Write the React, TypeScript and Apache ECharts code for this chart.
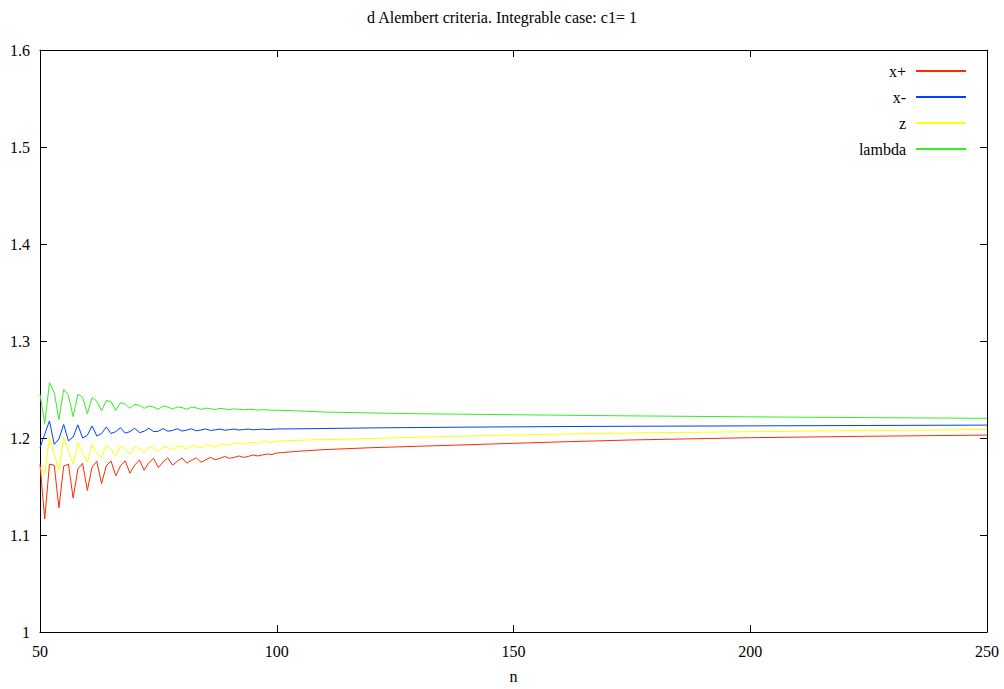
import React, { useEffect, useRef } from "react";
import * as echarts from "echarts";

const TITLE = "d Alembert criteria. Integrable case: c1= 1";
const X_TICKS = [50, 100, 150, 200, 250];
const Y_TICKS = [1, 1.1, 1.2, 1.3, 1.4, 1.5, 1.6];

const nDense = [
  50, 51, 52, 53, 54, 55, 56, 57, 58, 59, 60, 61, 62, 63, 64, 65, 66, 67, 68, 69, 70,
  71, 72, 73, 74, 75, 76, 77, 78, 79, 80, 81, 82, 83, 84, 85, 86, 87, 88, 89, 90,
  91, 92, 93, 94, 95, 96, 97, 98, 99, 100,
];
const nSparse = [105, 110, 120, 130, 140, 150, 160, 175, 200, 225, 250];

const xPlus = [
  1.173, 1.1165, 1.173, 1.172, 1.128, 1.171, 1.173, 1.138, 1.168, 1.174, 1.146,
  1.17, 1.176, 1.153, 1.1713, 1.1764, 1.161, 1.1713, 1.1764, 1.1637, 1.172,
  1.1774, 1.1668, 1.1747, 1.179, 1.1695, 1.1754, 1.1795, 1.172, 1.176, 1.1795,
  1.174, 1.177, 1.1795, 1.175, 1.1775, 1.18, 1.1775, 1.179, 1.181, 1.179,
  1.18, 1.1815, 1.18, 1.181, 1.1825, 1.1815, 1.1825, 1.1835, 1.183, 1.1845,
  1.1865, 1.188, 1.19, 1.1915, 1.193, 1.1945, 1.196, 1.198, 1.2003, 1.2018, 1.203,
];
const xMinus = [
  1.19, 1.204, 1.2176, 1.1935, 1.199, 1.214, 1.197, 1.201, 1.2135, 1.2, 1.2028,
  1.2124, 1.202, 1.2046, 1.2114, 1.2046, 1.2066, 1.2107, 1.205, 1.2066, 1.21,
  1.2055, 1.207, 1.21, 1.2066, 1.207, 1.2097, 1.207, 1.2078, 1.2095, 1.2072,
  1.2082, 1.2094, 1.2075, 1.2082, 1.2093, 1.2078, 1.2084, 1.2092, 1.208, 1.2086,
  1.2092, 1.2082, 1.2087, 1.2092, 1.2085, 1.2088, 1.2092, 1.2087, 1.209, 1.2093,
  1.2095, 1.2098, 1.2104, 1.2108, 1.2112, 1.2115, 1.2118, 1.2121, 1.2125, 1.2129, 1.2133,
];
const zVals = [
  1.1696, 1.1627, 1.201, 1.183, 1.167, 1.2003, 1.1867, 1.173, 1.1953, 1.185, 1.175,
  1.1935, 1.184, 1.1798, 1.1929, 1.1885, 1.1815, 1.1919, 1.1885, 1.1833, 1.191,
  1.1885, 1.185, 1.191, 1.1895, 1.186, 1.191, 1.19, 1.1874, 1.1915, 1.191,
  1.1885, 1.192, 1.1915, 1.1898, 1.1928, 1.1925, 1.191, 1.1938, 1.1936, 1.1925,
  1.1948, 1.1946, 1.1937, 1.1955, 1.1954, 1.1946, 1.1962, 1.196, 1.1955, 1.1968,
  1.1977, 1.1983, 1.1995, 1.2008, 1.202, 1.2031, 1.204, 1.2052, 1.2065, 1.2077, 1.2087,
];
const lambdaVals = [
  1.245, 1.215, 1.257, 1.247, 1.219, 1.25, 1.244, 1.222, 1.245, 1.242, 1.225,
  1.2416, 1.238, 1.2279, 1.2388, 1.2375, 1.2285, 1.2364, 1.235, 1.2306, 1.2347,
  1.2337, 1.2306, 1.233, 1.232, 1.2296, 1.233, 1.232, 1.2299, 1.232, 1.2313,
  1.2296, 1.232, 1.231, 1.2296, 1.2308, 1.2302, 1.2294, 1.2305, 1.23, 1.2292,
  1.23, 1.2296, 1.229, 1.2296, 1.2293, 1.2288, 1.2292, 1.229, 1.2286, 1.2287,
  1.2278, 1.2268, 1.2258, 1.225, 1.2245, 1.224, 1.2235, 1.2228, 1.2218, 1.221, 1.2203,
];

const seriesNames = ["x+", "x-", "z", "lambda"];
const seriesColors = ["#ff2a00", "#0040ff", "#ffff00", "#33ee22"];
const seriesValues = [xPlus, xMinus, zVals, lambdaVals];

const FONT = "'Liberation Serif', 'DejaVu Serif', serif";

export default function App() {
  const ref = useRef<HTMLDivElement>(null);
  useEffect(() => {
    if (!ref.current) return;
    const chart = echarts.init(ref.current, undefined, { renderer: "svg" });
    const nAll = nDense.concat(nSparse);
    const fmt = (v: number) => String(parseFloat(v.toFixed(2)));
    const axisLine = { show: true, lineStyle: { color: "#000", width: 1 } };
    const tick = { show: true, inside: true, length: 7, lineStyle: { color: "#000" } };
    const labelStyle = { color: "#000", fontFamily: FONT, fontSize: 16 };
    chart.setOption({
      animation: false,
      backgroundColor: "#fff",
      title: {
        text: TITLE,
        left: "center",
        top: 4,
        textStyle: { fontFamily: FONT, fontSize: 16, fontWeight: "normal", color: "#000" },
      },
      legend: {
        orient: "vertical",
        right: 32,
        top: 58,
        align: "right",
        itemWidth: 50,
        itemHeight: 14,
        itemGap: 10,
        itemStyle: { opacity: 0 },
        textStyle: { fontFamily: FONT, fontSize: 16, color: "#000", padding: [0, 5, 0, 0] },
        data: seriesNames,
      },
      grid: { left: 40, right: 17, top: 50, bottom: 56, containLabel: false },
      xAxis: [
        {
          type: "value",
          min: X_TICKS[0],
          max: X_TICKS[X_TICKS.length - 1],
          interval: 50,
          name: "n",
          nameLocation: "middle",
          nameGap: 36,
          nameTextStyle: labelStyle,
          axisLine,
          axisTick: tick,
          axisLabel: { ...labelStyle, margin: 11, formatter: fmt },
          splitLine: { show: false },
        },
        {
          type: "value",
          position: "top",
          min: X_TICKS[0],
          max: X_TICKS[X_TICKS.length - 1],
          interval: 50,
          axisLine,
          axisTick: tick,
          axisLabel: { show: false },
          splitLine: { show: false },
        },
      ],
      yAxis: [
        {
          type: "value",
          min: Y_TICKS[0],
          max: Y_TICKS[Y_TICKS.length - 1],
          interval: 0.1,
          axisLine,
          axisTick: tick,
          axisLabel: { ...labelStyle, margin: 10, formatter: fmt },
          splitLine: { show: false },
        },
        {
          type: "value",
          position: "right",
          min: Y_TICKS[0],
          max: Y_TICKS[Y_TICKS.length - 1],
          interval: 0.1,
          axisLine,
          axisTick: tick,
          axisLabel: { show: false },
          splitLine: { show: false },
        },
      ],
      series: seriesNames.map((name, i) => ({
        name,
        type: "line",
        xAxisIndex: 0,
        yAxisIndex: 0,
        symbol: "none",
        showSymbol: false,
        lineStyle: { color: seriesColors[i], width: 1 },
        itemStyle: { color: seriesColors[i] },
        data: nAll.map((n, k) => [n, seriesValues[i][k]]),
      })),
    });
    return () => chart.dispose();
  }, []);
  return <div ref={ref} style={{ width: 1004, height: 689, position: "absolute", left: 0, top: 0 }} />;
}
